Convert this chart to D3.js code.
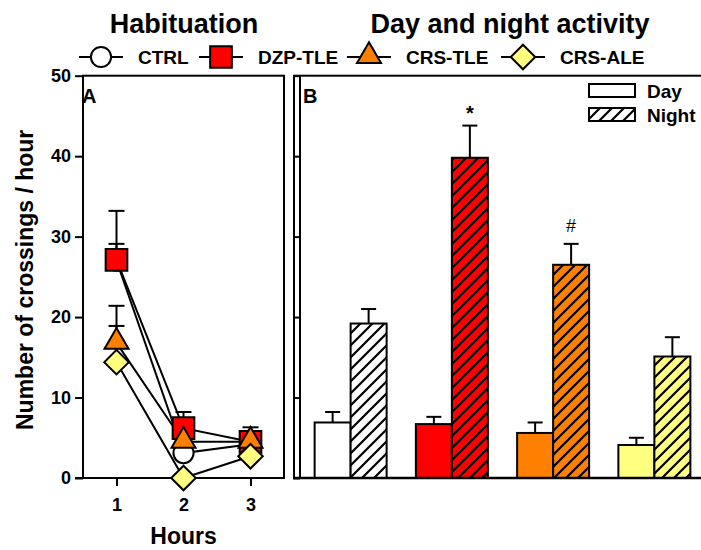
<!DOCTYPE html>
<html>
<head>
<meta charset="utf-8">
<script src="https://cdn.jsdelivr.net/npm/d3@7"></script>
<style>
  body { margin: 0; background: #fff; }
  text { font-family: "Liberation Sans", Arial, sans-serif; font-weight: bold; fill: #000; }
</style>
</head>
<body>
<svg id="chart" width="701" height="550"></svg>
<script>

// Panel A: habituation (hours 1-3)
const hours = [1, 2, 3];
const groups = ["CTRL", "DZP-TLE", "CRS-TLE", "CRS-ALE"];
const groupColors = ["#ffffff", "#ff0000", "#ff8000", "#ffff80"];
const groupSymbols = ["circle", "square", "triangle", "diamond"];
const habMean = [
  [27.0, 3.1, 4.2],
  [27.1, 6.2, 4.5],
  [16.8, 4.5, 4.5],
  [14.4, 0.0, 2.7]
];
const habSem = [
  [2.1, 0, 0],
  [6.1, 2.0, 1.8],
  [4.6, 0, 0],
  [4.5, 0, 0]
];

// Panel B: day and night activity
const periods = ["Day", "Night"];
const dayMean = [6.9, 6.7, 5.6, 4.1];
const daySem = [1.3, 0.9, 1.3, 0.9];
const nightMean = [19.2, 39.8, 26.5, 15.1];
const nightSem = [1.8, 4.0, 2.6, 2.4];
const signif = ["", "*", "#", ""];

const yTicks = [0, 10, 20, 30, 40, 50];

const svg = d3.select("#chart");

//Shared y scale
const y = d3.scaleLinear().domain([0, 50]).range([478, 75.7]);
const xA = d3.scaleLinear().domain([0.5, 3.5]).range([83, 284]);
const xB = d3.scaleBand().domain(groups).range([300, 705]);
const barW = 36;

//Hatch pattern for night bars
const defs = svg.append("defs");
groupColors.forEach((c, i) => {
  const p = defs.append("pattern")
    .attr("id", `hatch${i}`)
    .attr("patternUnits", "userSpaceOnUse")
    .attr("width", 12).attr("height", 12);
  p.append("rect").attr("width", 12).attr("height", 12).attr("fill", c);
  p.append("path")
    .attr("d", "M-3,3 L3,-3 M0,12 L12,0 M9,15 L15,9")
    .attr("stroke", "#000").attr("stroke-width", 2.2);
});

// ---- Titles
svg.append("text").attr("x", 184).attr("y", 33).attr("text-anchor", "middle")
  .style("font-size", "27px").text("Habituation");
svg.append("text").attr("x", 510).attr("y", 33).attr("text-anchor", "middle")
  .style("font-size", "27px").text("Day and night activity");

// ---- Symbol helper (diamond = square turned 45 degrees)
const symbolType = {
  circle: d3.symbolCircle, square: d3.symbolSquare,
  triangle: d3.symbolTriangle, diamond: d3.symbolSquare
};
const symbolSize = { circle: 320, square: 470, triangle: 250, diamond: 300 };
const symbolPath = s => d3.symbol().type(symbolType[s]).size(symbolSize[s])();
const symbolTurn = s => s === "diamond" ? " rotate(45)" : (s === "triangle" ? " translate(0,-1)" : "");

// ---- Legend for groups
const legendX = [101, 221, 369, 523];
const legendY = 57;
groups.forEach((g, i) => {
  const lg = svg.append("g").attr("transform", `translate(${legendX[i]},${legendY})`);
  lg.append("line").attr("x1", -22).attr("x2", 22)
    .attr("stroke", "#000").attr("stroke-width", 2);
  lg.append("path").attr("d", symbolPath(groupSymbols[i]))
    .attr("transform", symbolTurn(groupSymbols[i]) || null)
    .attr("fill", groupColors[i]).attr("stroke", "#000").attr("stroke-width", 2);
  lg.append("text").attr("x", 37).attr("y", 7).style("font-size", "19px").text(g);
});

// ---- Panel A
const gA = svg.append("g");
gA.append("rect").attr("x", 83).attr("y", y(50)).attr("width", 284 - 83).attr("height", y(0) - y(50))
  .attr("fill", "none").attr("stroke", "#000").attr("stroke-width", 2);

const axisLeft = gA.append("g").attr("transform", "translate(83,0)")
  .call(d3.axisLeft(y).tickValues(yTicks).tickSize(8).tickPadding(4));
axisLeft.select(".domain").remove();
axisLeft.selectAll("line").attr("stroke-width", 2);
axisLeft.selectAll("text").style("font-size", "18px").style("font-family", "Liberation Sans, Arial")
  .style("font-weight", "bold");

const axisBottom = gA.append("g").attr("transform", `translate(0,${y(0)})`)
  .call(d3.axisBottom(xA).tickValues(hours).tickFormat(d3.format("d")).tickSize(8).tickPadding(12));
axisBottom.select(".domain").remove();
axisBottom.selectAll("line").attr("stroke-width", 2);
axisBottom.selectAll("text").style("font-size", "18px").style("font-family", "Liberation Sans, Arial")
  .style("font-weight", "bold");
gA.append("line").attr("x1", 75).attr("x2", 284).attr("y1", y(0)).attr("y2", y(0))
  .attr("stroke", "#000").attr("stroke-width", 2);

gA.append("text").attr("x", 82).attr("y", 103).style("font-size", "20px").text("A");
gA.append("text").attr("x", xA(2)).attr("y", 544).attr("text-anchor", "middle")
  .style("font-size", "23px").text("Hours");
svg.append("text").attr("transform", `translate(33,${(y(0) + y(50)) / 2 + 3}) rotate(-90)`)
  .attr("text-anchor", "middle").style("font-size", "23px").text("Number of crossings / hour");

//Series: line, error bars, markers
groups.forEach((g, i) => {
  const pts = hours.map((h, j) => ({ h, m: habMean[i][j], s: habSem[i][j] }));
  gA.append("path").datum(pts)
    .attr("d", d3.line().x(d => xA(d.h)).y(d => y(d.m)))
    .attr("fill", "none").attr("stroke", "#000").attr("stroke-width", 2);
  pts.filter(d => d.s > 0).forEach(d => {
    gA.append("line").attr("x1", xA(d.h)).attr("x2", xA(d.h))
      .attr("y1", y(d.m)).attr("y2", y(d.m + d.s)).attr("stroke", "#000").attr("stroke-width", 2);
    gA.append("line").attr("x1", xA(d.h) - 8).attr("x2", xA(d.h) + 8)
      .attr("y1", y(d.m + d.s)).attr("y2", y(d.m + d.s)).attr("stroke", "#000").attr("stroke-width", 2);
  });
});
groups.forEach((g, i) => {
  hours.forEach((h, j) => {
    gA.append("path").attr("d", symbolPath(groupSymbols[i]))
      .attr("transform", `translate(${xA(h)},${y(habMean[i][j])})${symbolTurn(groupSymbols[i])}`)
      .attr("fill", groupColors[i]).attr("stroke", "#000").attr("stroke-width", 2);
  });
});

// ---- Panel B
const gB = svg.append("g");
gB.append("rect").attr("x", 294).attr("y", y(50)).attr("width", 420).attr("height", y(0) - y(50))
  .attr("fill", "none").attr("stroke", "#000").attr("stroke-width", 2);
const axisB = gB.append("g").attr("transform", "translate(300,0)")
  .call(d3.axisLeft(y).tickValues(yTicks).tickSize(7).tickFormat(""));
axisB.select(".domain").attr("stroke-width", 2).attr("d", `M0,${y(0)}V${y(50)}`);
axisB.selectAll("line").attr("stroke-width", 2);

gB.append("text").attr("x", 303).attr("y", 103).style("font-size", "20px").text("B");

const barData = groups.map((g, i) => [
  { g, i, p: 0, m: dayMean[i], s: daySem[i] },
  { g, i, p: 1, m: nightMean[i], s: nightSem[i] }
]).flat();

const cx = d => xB(d.g) + xB.bandwidth() / 2 + (d.p === 0 ? -barW : 0);

gB.selectAll(".err").data(barData).join("g").attr("class", "err")
  .each(function(d) {
    const sel = d3.select(this);
    const mx = cx(d) + barW / 2;
    sel.append("line").attr("x1", mx).attr("x2", mx).attr("y1", y(d.m)).attr("y2", y(d.m + d.s))
      .attr("stroke", "#000").attr("stroke-width", 2);
    sel.append("line").attr("x1", mx - 7.5).attr("x2", mx + 7.5).attr("y1", y(d.m + d.s)).attr("y2", y(d.m + d.s))
      .attr("stroke", "#000").attr("stroke-width", 2);
  });

gB.selectAll(".bar").data(barData).join("rect").attr("class", "bar")
  .attr("x", cx)
  .attr("y", d => y(d.m))
  .attr("width", barW)
  .attr("height", d => y(0) - y(d.m))
  .attr("fill", d => d.p === 0 ? groupColors[d.i] : `url(#hatch${d.i})`)
  .attr("stroke", "#000").attr("stroke-width", 2);

gB.append("line").attr("x1", 294).attr("x2", 701).attr("y1", y(0)).attr("y2", y(0))
  .attr("stroke", "#000").attr("stroke-width", 2.5);

//Significance marks
groups.forEach((g, i) => {
  if (!signif[i]) return;
  gB.append("text").attr("x", xB(g) + xB.bandwidth() / 2 + barW / 2)
    .attr("y", y(nightMean[i] + nightSem[i]) - (signif[i] === "*" ? 6 : 12))
    .attr("text-anchor", "middle").style("font-size", signif[i] === "*" ? "20px" : "18px")
    .style("font-weight", signif[i] === "*" ? "bold" : "normal").text(signif[i]);
});

//Day / Night legend
periods.forEach((p, k) => {
  const ly = 84 + k * 24;
  gB.append("rect").attr("x", 589).attr("y", ly).attr("width", 46).attr("height", 13)
    .attr("fill", k === 0 ? "#fff" : "url(#hatch0)").attr("stroke", "#000").attr("stroke-width", 2);
  gB.append("text").attr("x", 647).attr("y", ly + 14).style("font-size", "19px").text(p);
});

</script>
</body>
</html>
